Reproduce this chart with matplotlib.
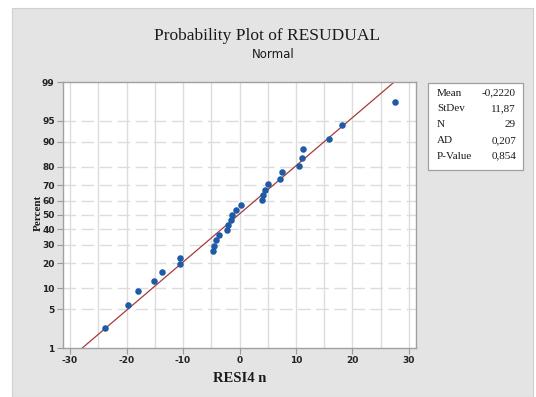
import matplotlib
matplotlib.use('Agg')
import matplotlib.pyplot as plt, numpy as np
from matplotlib.patches import Rectangle
from statistics import NormalDist

# residuals (sorted) and their plotted percents
resid = [-23.9, -19.8, -17.9, -15.1, -13.7, -10.6, -10.6, -4.7, -4.6, -4.1,
         -3.6, -2.2, -2.1, -1.5, -1.3, -0.6, 0.2, 4.0, 4.1, 4.6,
         5.0, 7.2, 7.5, 10.6, 11.0, 11.2, 15.8, 18.2, 27.6]
percent = [2.38, 5.78, 9.18, 12.59, 15.99, 19.39, 22.79, 26.19, 29.59, 32.99,
           36.39, 39.80, 43.20, 46.60, 50.00, 53.40, 56.80, 60.20, 63.61, 67.01,
           70.41, 73.81, 77.21, 80.61, 84.01, 87.41, 90.82, 94.22, 97.62]

y_ticks = [1, 5, 10, 20, 30, 40, 50, 60, 70, 80, 90, 95, 99]
x_ticks = [-30, -20, -10, 0, 10, 20, 30]

stat_names = ['Mean', 'StDev', 'N', 'AD', 'P-Value']
stat_values = ['-0,2220', '11,87', '29', '0,207', '0,854']
mean, sd = -0.222, 11.87

nd = NormalDist()
z = lambda p: nd.inv_cdf(p / 100.0)

W, H = 536, 397
fig = plt.figure(figsize=(W / 100, H / 100), dpi=100)
fig.patch.set_facecolor('white')
fig.patches.append(Rectangle((12 / W, 0), (533 - 12) / W, 1 - 8 / H, transform=fig.transFigure,
                             facecolor='#e4e4e4', edgecolor='#d0d0d0', lw=0.8, zorder=-10))

ax = fig.add_axes([63 / W, 1 - 348 / H, (416 - 63) / W, (348 - 82) / H])
ax.set_facecolor('white')

# grid: solid verticals every 5, dashed horizontals at percent ticks
for xv in np.arange(-30, 31, 5):
    ax.axvline(xv, color='#dcdcdc', lw=1, zorder=1)
for p in y_ticks[1:-1]:
    ax.axhline(z(p), color='#dcdcdc', lw=1, dashes=(9, 4), zorder=1)

zz = np.array([z(1), z(99)])
ax.plot(mean + sd * zz, zz, color='#a83a3a', lw=0.9, zorder=2)
ax.scatter(resid, [z(p) for p in percent], s=22, color='#1f5aa6', zorder=3, linewidths=0)

ax.set_xlim(-31.25, 31.25)
ax.set_ylim(z(1), z(99))
ax.set_xticks(x_ticks)
ax.set_xticklabels([str(v) for v in x_ticks])
ax.set_yticks([z(p) for p in y_ticks])
ax.set_yticklabels([str(v) for v in y_ticks])
ax.tick_params(labelsize=6.5, colors='#9a9a9a', length=4, width=0.8, pad=2)
for lab in ax.get_xticklabels() + ax.get_yticklabels():
    lab.set_color('#222222')
    lab.set_fontweight('bold')
for s in ax.spines.values():
    s.set_color('#a0a0a0')
    s.set_linewidth(1)

serif = 'Liberation Serif'
fig.text(267 / W, 1 - 36 / H, 'Probability Plot of RESUDUAL', family=serif, fontsize=12.5,
         ha='center', va='center', color='#1a1a1a')
fig.text(273 / W, 1 - 54 / H, 'Normal', fontsize=8.5, ha='center', va='center', color='#1a1a1a')
fig.text(240 / W, 1 - 379 / H, 'RESI4 n', family=serif, fontsize=10.5, fontweight='bold',
         ha='center', va='center', color='#1a1a1a')
fig.text(38 / W, 1 - 213 / H, 'Percent', family=serif, fontsize=8, fontweight='bold',
         rotation=90, ha='center', va='center', color='#1a1a1a')

# stats box
fig.patches.append(Rectangle((428 / W, 1 - 170 / H), (523 - 428) / W, (170 - 83) / H,
                             transform=fig.transFigure, facecolor='white', edgecolor='#a0a0a0',
                             lw=0.9, zorder=1))
for i, (n, v) in enumerate(zip(stat_names, stat_values)):
    yy = 1 - (93 + i * 15.8) / H
    fig.text(437 / W, yy, n, family=serif, fontsize=8, ha='left', va='center', color='#1a1a1a')
    fig.text(516 / W, yy, v, family=serif, fontsize=8, ha='right', va='center', color='#1a1a1a')

fig.savefig('out.png', dpi=100)
